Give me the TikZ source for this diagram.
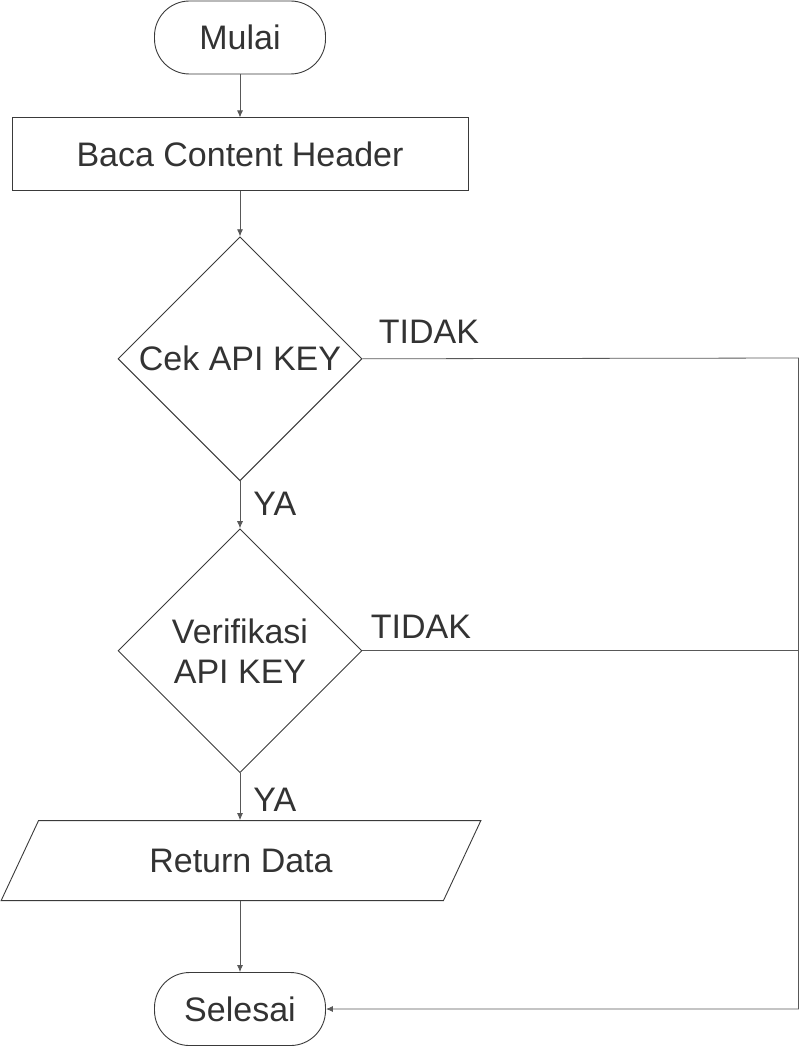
\documentclass[tikz,border=0pt]{standalone}
\usepackage{fontspec}
\setmainfont{Liberation Sans}
\usetikzlibrary{arrows.meta, positioning, shapes.geometric}

\definecolor{garis}{HTML}{3A3A3A}
\definecolor{teks}{HTML}{333333}

\begin{document}
\begin{tikzpicture}[
  terminal/.style={
    rectangle,
    draw=garis,
    rounded corners=35pt,
    minimum width=171pt,
    minimum height=73pt
  },
  proses/.style={
    rectangle,
    draw=garis,
    minimum width=456pt,
    minimum height=73pt
  },
  keputusan/.style={
    diamond,
    draw=garis,
    align=center,
    inner sep=0pt,
    minimum width=244pt,
    minimum height=244pt
  },
  data/.style={
    trapezium,
    trapezium left angle=60,
    trapezium right angle=120,
    trapezium stretches=true,
    draw=garis,
    minimum width=480pt,
    minimum height=80pt
  },
  label/.style={inner sep=0pt, text=teks},
  arrow/.style={-{Latex[length=7pt,width=6pt]}, draw=garis!85, line width=0.8pt},
  every node/.append style={font=\fontsize{34}{40}\selectfont, text=teks, line width=0.9pt}
]
\useasboundingbox (0,0) rectangle (800pt,-1046pt);

% Nodes (stacked top-down)
\node[terminal] (mulai) at (240pt,-37.5pt) {Mulai};
\node[proses, below=43pt of mulai] (baca) {Baca Content Header};
\node[keputusan, below=45pt of baca] (cek) {Cek API KEY};
\node[keputusan, below=47pt of cek] (verif) {Verifikasi\\API KEY};
\node[data, below=47pt of verif, xshift=1pt] (return) {Return Data};
\node[terminal, below=71pt of return, xshift=-1pt] (selesai) {Selesai};
\coordinate (pojok) at (798.5pt,-358pt);

% Arrows
\draw[arrow] (mulai) -- (baca);
\draw[arrow] (baca) -- (cek);
\draw[arrow] (cek) -- (verif);
\draw[arrow] (verif) -- (verif.south |- return.north);
\draw[arrow] (selesai.north |- return.south) -- (selesai);
\draw[arrow] (cek.east) -- (pojok) |- (selesai.east);
\draw[draw=garis!85, line width=0.8pt] (verif.east) -- (verif.east -| pojok);

% Branch labels
\node[label, above right=15pt and 16pt of cek.east] {TIDAK};
\node[label, above right=12pt and 8pt of verif.east] {TIDAK};
\node[label, below right=10pt and 13pt of cek.south] {YA};
\node[label, below right=14pt and 13pt of verif.south] {YA};

\end{tikzpicture}
\end{document}
